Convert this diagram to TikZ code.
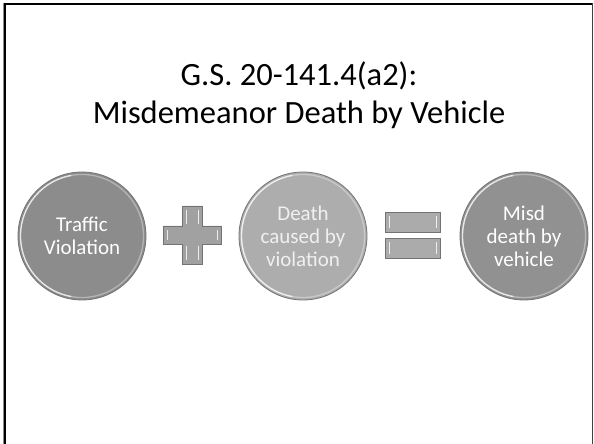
\documentclass[tikz,border=0pt]{standalone}
\usepackage{fontspec}
\setmainfont{Carlito}
\usetikzlibrary{calc}
\begin{document}
\begin{tikzpicture}[x=1pt,y=1pt,
  ball/.style={circle,minimum size=128pt,inner sep=0pt,draw=black!55,line width=0.8pt,
     text=white,font=\fontsize{21}{23}\selectfont,align=center},
  rim/.style={draw=white,opacity=0.7,line width=1.3pt},
  sign/.style={fill=black!37,draw=black!55,line width=0.8pt},
  shine/.style={draw=white,opacity=0.8,line width=1pt}]
\useasboundingbox (0,0) rectangle (594,444);
% frame
\draw[black!45,line width=1pt] (3.5,0) -- (3.5,441);
\draw[black,line width=2pt] (5,0) -- (5,440) -- (592,440);
\draw[black!75,line width=1pt] (592,441) -- (592,0);
% title
\node[font=\fontsize{32.5}{38}\selectfont,align=center] (title) at (299,349)
  {G.S. 20-141.4(a2):\\Misdemeanor Death by Vehicle};
% circles
\node[ball,fill=black!45] (c1) at (82,208) {Traffic\\Violation};
\node[ball,fill=black!32,text=black!6] (c2) at (303,208) {Death\\caused by\\violation};
\node[ball,fill=black!43] (c3) at (524,208) {Misd\\death by\\vehicle};
\foreach \n in {c1,c2,c3}{
  \draw[rim,opacity=0.35] (\n.center) circle[radius=61.5];
  \draw[rim] (\n.center) ++(100:61.5) arc (100:260:61.5);
}
% plus
\coordinate (p) at (192.5,209);
\draw[sign] ($(p)+(-10,29)$) -- ++(20,0) -- ++(0,-20) -- ++(19,0) -- ++(0,-18) -- ++(-19,0)
  -- ++(0,-20) -- ++(-20,0) -- ++(0,20) -- ++(-19,0) -- ++(0,18) -- ++(19,0) -- cycle;
\draw[shine] ($(p)+(-6,25)$) -- ++(0,-14);
\draw[shine] ($(p)+(6,25)$) -- ++(0,-14);
\draw[shine] ($(p)+(-6,-11)$) -- ++(0,-14);
\draw[shine] ($(p)+(6,-11)$) -- ++(0,-14);
\draw[shine] ($(p)+(-25,5)$) -- ++(0,-10);
\draw[shine] ($(p)+(25,5)$) -- ++(0,-10);
% equals
\draw[sign,fill=black!33] (385,212) rectangle (440,232);
\draw[sign,fill=black!33] (385,186) rectangle (440,206);
\draw[shine] (389,216) -- (389,228);
\draw[shine] (436,216) -- (436,228);
\draw[shine] (389,190) -- (389,202);
\draw[shine] (436,190) -- (436,202);
\end{tikzpicture}
\end{document}
